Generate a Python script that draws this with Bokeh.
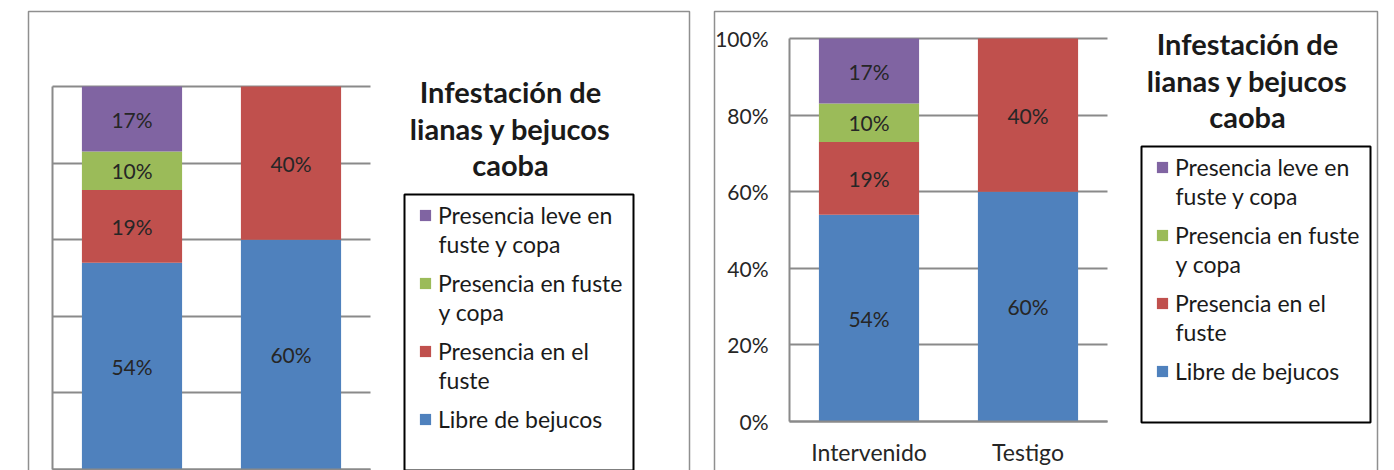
from bokeh.plotting import figure
from bokeh.models import (ColumnDataSource, Range1d, FixedTicker, NumeralTickFormatter,
                          Legend, LegendItem, Label, LabelSet, LinearAxis, Grid)
from bokeh.core.properties import value
from bokeh.embed import file_html
from bokeh.resources import INLINE

# ---------------- data ----------------
categories = ["Intervenido", "Testigo"]
libre = [0.54, 0.60]
fuste = [0.19, 0.40]
fuste_copa = [0.10, 0.0]
leve = [0.17, 0.0]
series_keys = ["libre", "fuste", "fuste_copa", "leve"]
series_labels = ["Libre de bejucos", "Presencia en el\nfuste",
                 "Presencia en fuste\ny copa", "Presencia leve en\nfuste y copa"]
series_colors = ["#4F81BD", "#C0504D", "#9BBB59", "#8064A2"]
y_ticks = [0, 0.2, 0.4, 0.6, 0.8, 1.0]
title_lines = ["Infestación de", "lianas y bejucos", "caoba"]

# ---------------- layout / style ----------------
W, H = 1394, 470          # canvas size (page pixels)
UNIT_X = 159.0            # px per category slot
UNIT_Y = 383.0            # px per 100 %
FONT = "Lato"
GRID = "#8a8a8a"
TXT = "#262626"
LEG_LINE = 28             # legend text line height
LEG_PITCH = 68            # distance between legend entries

p = figure(width=W, height=H, x_range=Range1d(0, W), y_range=Range1d(H, 0),
           x_axis_type=None, y_axis_type=None, min_border=0, title_location=None,
           output_backend="svg", toolbar_location=None)
p.outline_line_color = None
p.xgrid.visible = False
p.ygrid.visible = False

# outer chart-area frames (page pixel coordinates); their bottoms lie below the picture
p.multi_line(xs=[[28, 28, 689, 689], [714, 714, 1377, 1377]],
             ys=[[490, 11, 11, 490], [490, 11, 11, 490]],
             line_color="#8f8f8f", line_width=1.5)

x_pos = [i + 0.5 for i in range(len(categories))]


def sources():
    data = {"x": x_pos, "libre": libre, "fuste": fuste, "fuste_copa": fuste_copa, "leve": leve}
    xs, ys, txt = [], [], []
    for i in range(len(categories)):
        base = 0.0
        for k in series_keys:
            v = data[k][i]
            if v > 0:
                xs.append(x_pos[i])
                ys.append(base + v / 2)
                txt.append(f"{round(v * 100)}%")
            base += v
    return ColumnDataSource(data), ColumnDataSource(dict(x=xs, mid=ys, txt=txt))


def panel(name, ox, oy, full):
    """ox, oy: page position of the plot origin (first slot left edge, 0 %)."""
    p.extra_x_ranges[name] = Range1d(-ox / UNIT_X, (W - ox) / UNIT_X)
    p.extra_y_ranges[name] = Range1d((oy - H) / UNIT_Y, oy / UNIT_Y)
    src, lab = sources()
    n = len(categories)

    g = Grid(dimension=1, ticker=FixedTicker(ticks=y_ticks), x_range_name=name,
             y_range_name=name, grid_line_color=GRID, grid_line_width=2)
    if "cross_bounds" in Grid.properties():
        g.cross_bounds = (0, n)
    p.add_layout(g)

    rends = p.vbar_stack(series_keys, x="x", width=0.63, fill_color=series_colors,
                         line_color=None, source=src,
                         x_range_name=name, y_range_name=name)

    p.add_layout(LabelSet(x="x", y="mid", text="txt", source=lab,
                          x_range_name=name, y_range_name=name,
                          text_align="center", text_baseline="middle",
                          text_font=value(FONT), text_font_size="21px", text_color=TXT))

    ya = LinearAxis(x_range_name=name, y_range_name=name, fixed_location=0, bounds=(0, 1),
                    ticker=FixedTicker(ticks=y_ticks if full else []),
                    formatter=NumeralTickFormatter(format="0%"))
    ya.axis_line_color = GRID
    ya.axis_line_width = 2
    ya.major_tick_line_color = None
    ya.minor_tick_line_color = None
    ya.major_tick_out = 0
    ya.major_tick_in = 0
    ya.major_label_standoff = 21
    ya.major_label_text_font = FONT
    ya.major_label_text_font_size = "21px"
    ya.major_label_text_color = TXT
    p.add_layout(ya, "left")

    xa = LinearAxis(x_range_name=name, y_range_name=name, fixed_location=0, bounds=(0, n),
                    ticker=FixedTicker(ticks=x_pos if full else []),
                    major_label_overrides={x_pos[i]: categories[i] for i in range(n)})
    xa.axis_line_color = GRID
    xa.axis_line_width = 2
    xa.major_tick_line_color = None
    xa.minor_tick_line_color = None
    xa.major_tick_out = 0
    xa.major_tick_in = 0
    xa.major_label_standoff = 16
    xa.major_label_text_font = FONT
    xa.major_label_text_font_size = "23px"
    xa.major_label_text_color = TXT
    p.add_layout(xa, "below")

    # title block, centred to the right of the plot
    top_page = oy - UNIT_Y
    for line, dy in zip(title_lines, [4.5, 42, 78]):
        p.add_layout(Label(x=ox + 458, y=H - (top_page + dy),
                           x_units="screen", y_units="screen",
                           text=line, text_align="center", text_baseline="middle",
                           text_font=FONT, text_font_style="bold",
                           text_font_size="29px", text_color="#1a1a1a"))

    # legend frame
    bl, bt = ox + 352, top_page + 108
    p.quad(left=[bl], right=[bl + 229], top=[bt], bottom=[bt + 276],
           fill_color="white", line_color="black", line_width=2)

    # legend entries: first lines with the series glyphs, continuation lines as labels
    order = [3, 2, 1, 0]
    first = [series_labels[i].split("\n")[0] for i in order]
    items = [LegendItem(label=first[k], renderers=[rends[i]]) for k, i in enumerate(order)]
    n_items = len(items)
    leg_h = n_items * LEG_LINE + (n_items - 1) * (LEG_PITCH - LEG_LINE)
    leg_top = bt + 7
    legend = Legend(items=items, location=(bl + 14, H - (leg_top + leg_h)),
                    border_line_color=None, background_fill_alpha=0.0,
                    label_text_font=FONT, label_text_font_size="23px",
                    label_text_color="#1a1a1a", label_height=LEG_LINE,
                    glyph_width=14, glyph_height=14, label_standoff=6,
                    padding=0, spacing=LEG_PITCH - LEG_LINE, margin=0)
    p.add_layout(legend)
    for k, i in enumerate(order):
        rest = series_labels[i].split("\n")[1:]
        for j, line in enumerate(rest):
            yc = leg_top + k * LEG_PITCH + LEG_LINE / 2 + (j + 1) * LEG_LINE
            p.add_layout(Label(x=bl + 34, y=H - yc, x_units="screen", y_units="screen",
                               text=line, text_align="left", text_baseline="middle",
                               text_font=FONT, text_font_size="23px",
                               text_color="#1a1a1a"))


panel("left", 52, 469, False)
panel("right", 789, 421, True)

open("out.html", "w").write(file_html(p, INLINE))
